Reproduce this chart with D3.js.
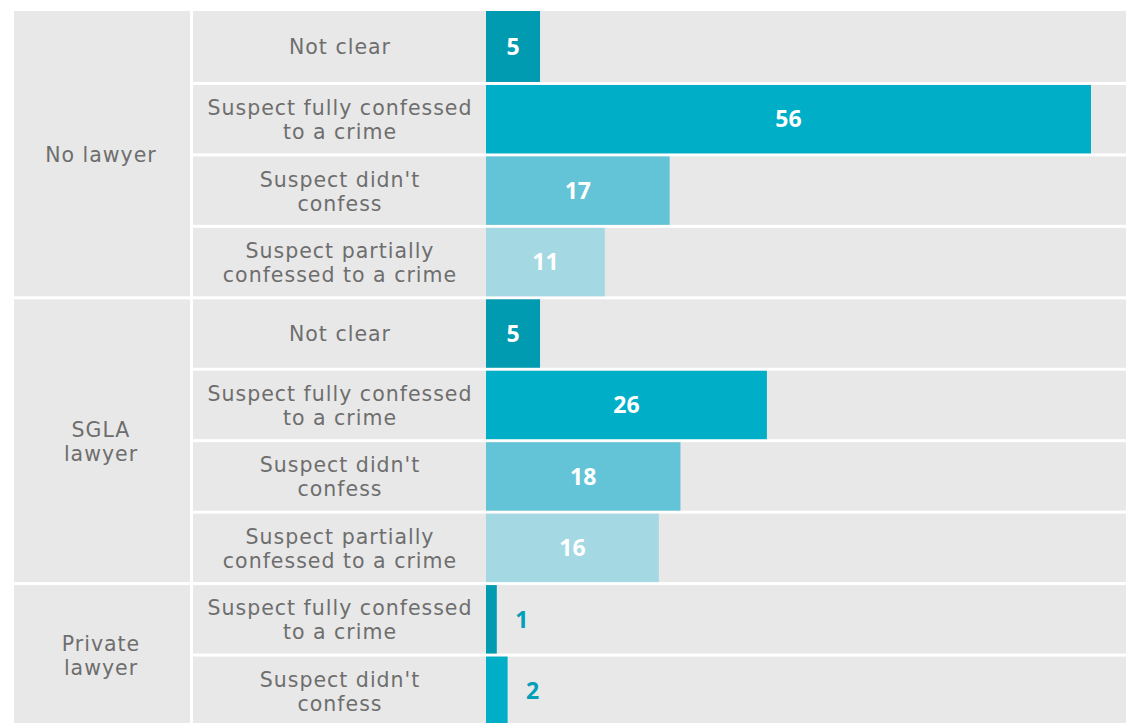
<!DOCTYPE html>
<html>
<head>
<meta charset="utf-8">
<script src="https://cdn.jsdelivr.net/npm/d3@7"></script>
<style>
  html, body { margin: 0; padding: 0; background: #ffffff; }
  svg { display: block; }
  .lbl { font-family: "DejaVu Sans", "Liberation Sans", sans-serif; fill: #6e6e6e; font-size: 20.5px; font-weight: 400; letter-spacing: 1px; }
  .val { font-family: "Open Sans", "Lato", sans-serif; font-weight: 700; font-size: 23px; }
</style>
</head>
<body>
<svg id="chart" width="1126" height="723"></svg>
<script>
// Interview outcomes by type of legal representation
const groups = ["No lawyer", "SGLA lawyer", "Private lawyer"];
const rowGroup = [0, 0, 0, 0, 1, 1, 1, 1, 2, 2];
const categories = [
  "Not clear",
  "Suspect fully confessed to a crime",
  "Suspect didn't confess",
  "Suspect partially confessed to a crime",
  "Not clear",
  "Suspect fully confessed to a crime",
  "Suspect didn't confess",
  "Suspect partially confessed to a crime",
  "Suspect fully confessed to a crime",
  "Suspect didn't confess"
];
const values = [5, 56, 17, 11, 5, 26, 18, 16, 1, 2];

// line breaks used for the row labels
const labelLines = {
  "Not clear": ["Not clear"],
  "Suspect fully confessed to a crime": ["Suspect fully confessed", "to a crime"],
  "Suspect didn't confess": ["Suspect didn't", "confess"],
  "Suspect partially confessed to a crime": ["Suspect partially", "confessed to a crime"]
};
const groupLines = {
  "No lawyer": ["No lawyer"],
  "SGLA lawyer": ["SGLA", "lawyer"],
  "Private lawyer": ["Private", "lawyer"]
};

// shade by position within the group
const shades = ["#009bb0", "#00aec7", "#63c4d7", "#a4d8e3"];

const svg = d3.select("#chart");
const W = 1126;
const top0 = 11;

const rows = values.map((v, i) => ({ i, v, cat: categories[i], g: rowGroup[i] }));
rows.forEach(r => { r.pos = r.i - rowGroup.indexOf(r.g); });

const y = d3.scaleBand()
  .domain(d3.range(values.length))
  .range([13.5, 725])
  .paddingInner(0.042)
  .paddingOuter(0);

const x = d3.scaleLinear()
  .domain([0, d3.max(values)])
  .range([486, 1091]);

const rowTop = i => (i === 0 ? top0 : y(i));
const rowH = i => y(i) + y.bandwidth() - rowTop(i);

// group panels
const groupData = groups.map((name, gi) => {
  const idx = rows.filter(r => r.g === gi).map(r => r.i);
  const t = rowTop(idx[0]);
  const b = y(idx[idx.length - 1]) + y.bandwidth();
  return { name, t, b };
});

svg.selectAll("rect.grp").data(groupData).join("rect")
  .attr("class", "grp")
  .attr("x", 14).attr("width", 190 - 14)
  .attr("y", d => d.t).attr("height", d => d.b - d.t)
  .attr("fill", "#e8e8e8");

// row backgrounds
svg.selectAll("rect.rowbg").data(rows).join("rect")
  .attr("class", "rowbg")
  .attr("x", 193).attr("width", W - 193)
  .attr("y", d => rowTop(d.i)).attr("height", d => rowH(d.i))
  .attr("fill", "#e8e8e8");

// bars
svg.selectAll("rect.bar").data(rows).join("rect")
  .attr("class", "bar")
  .attr("x", x(0)).attr("width", d => x(d.v) - x(0))
  .attr("y", d => rowTop(d.i)).attr("height", d => rowH(d.i))
  .attr("fill", d => shades[d.pos]);

// multi-line centred labels, one text element per line
const lh = 24;
function lineItems(lines, cx, cy) {
  return lines.map((l, k) => ({ text: l, x: cx, y: cy + (k - (lines.length - 1) / 2) * lh }));
}

const groupLineData = groupData.flatMap(d => lineItems(groupLines[d.name], 101, (d.t + d.b) / 2 + 1));
svg.selectAll("text.glbl").data(groupLineData).join("text")
  .attr("class", "lbl glbl")
  .attr("text-anchor", "middle")
  .attr("x", d => d.x).attr("y", d => d.y)
  .attr("dy", "0.36em")
  .text(d => d.text);

const rowLineData = rows.flatMap(d => lineItems(labelLines[d.cat], 340, rowTop(d.i) + rowH(d.i) / 2 + 0.5));
svg.selectAll("text.rlbl").data(rowLineData).join("text")
  .attr("class", "lbl rlbl")
  .attr("text-anchor", "middle")
  .attr("x", d => d.x).attr("y", d => d.y)
  .attr("dy", "0.36em")
  .text(d => d.text);

// value labels: inside the bar when it is wide enough, otherwise just past its end
const minInside = 40;
svg.selectAll("text.val").data(rows).join("text")
  .attr("class", "val")
  .attr("x", d => (x(d.v) - x(0) >= minInside ? (x(0) + x(d.v)) / 2 : x(d.v) + 25))
  .attr("y", d => rowTop(d.i) + rowH(d.i) / 2)
  .attr("dy", "0.36em")
  .attr("text-anchor", "middle")
  .attr("fill", d => (x(d.v) - x(0) >= minInside ? "#ffffff" : "#00a0b8"))
  .text(d => d.v);
</script>
</body>
</html>
